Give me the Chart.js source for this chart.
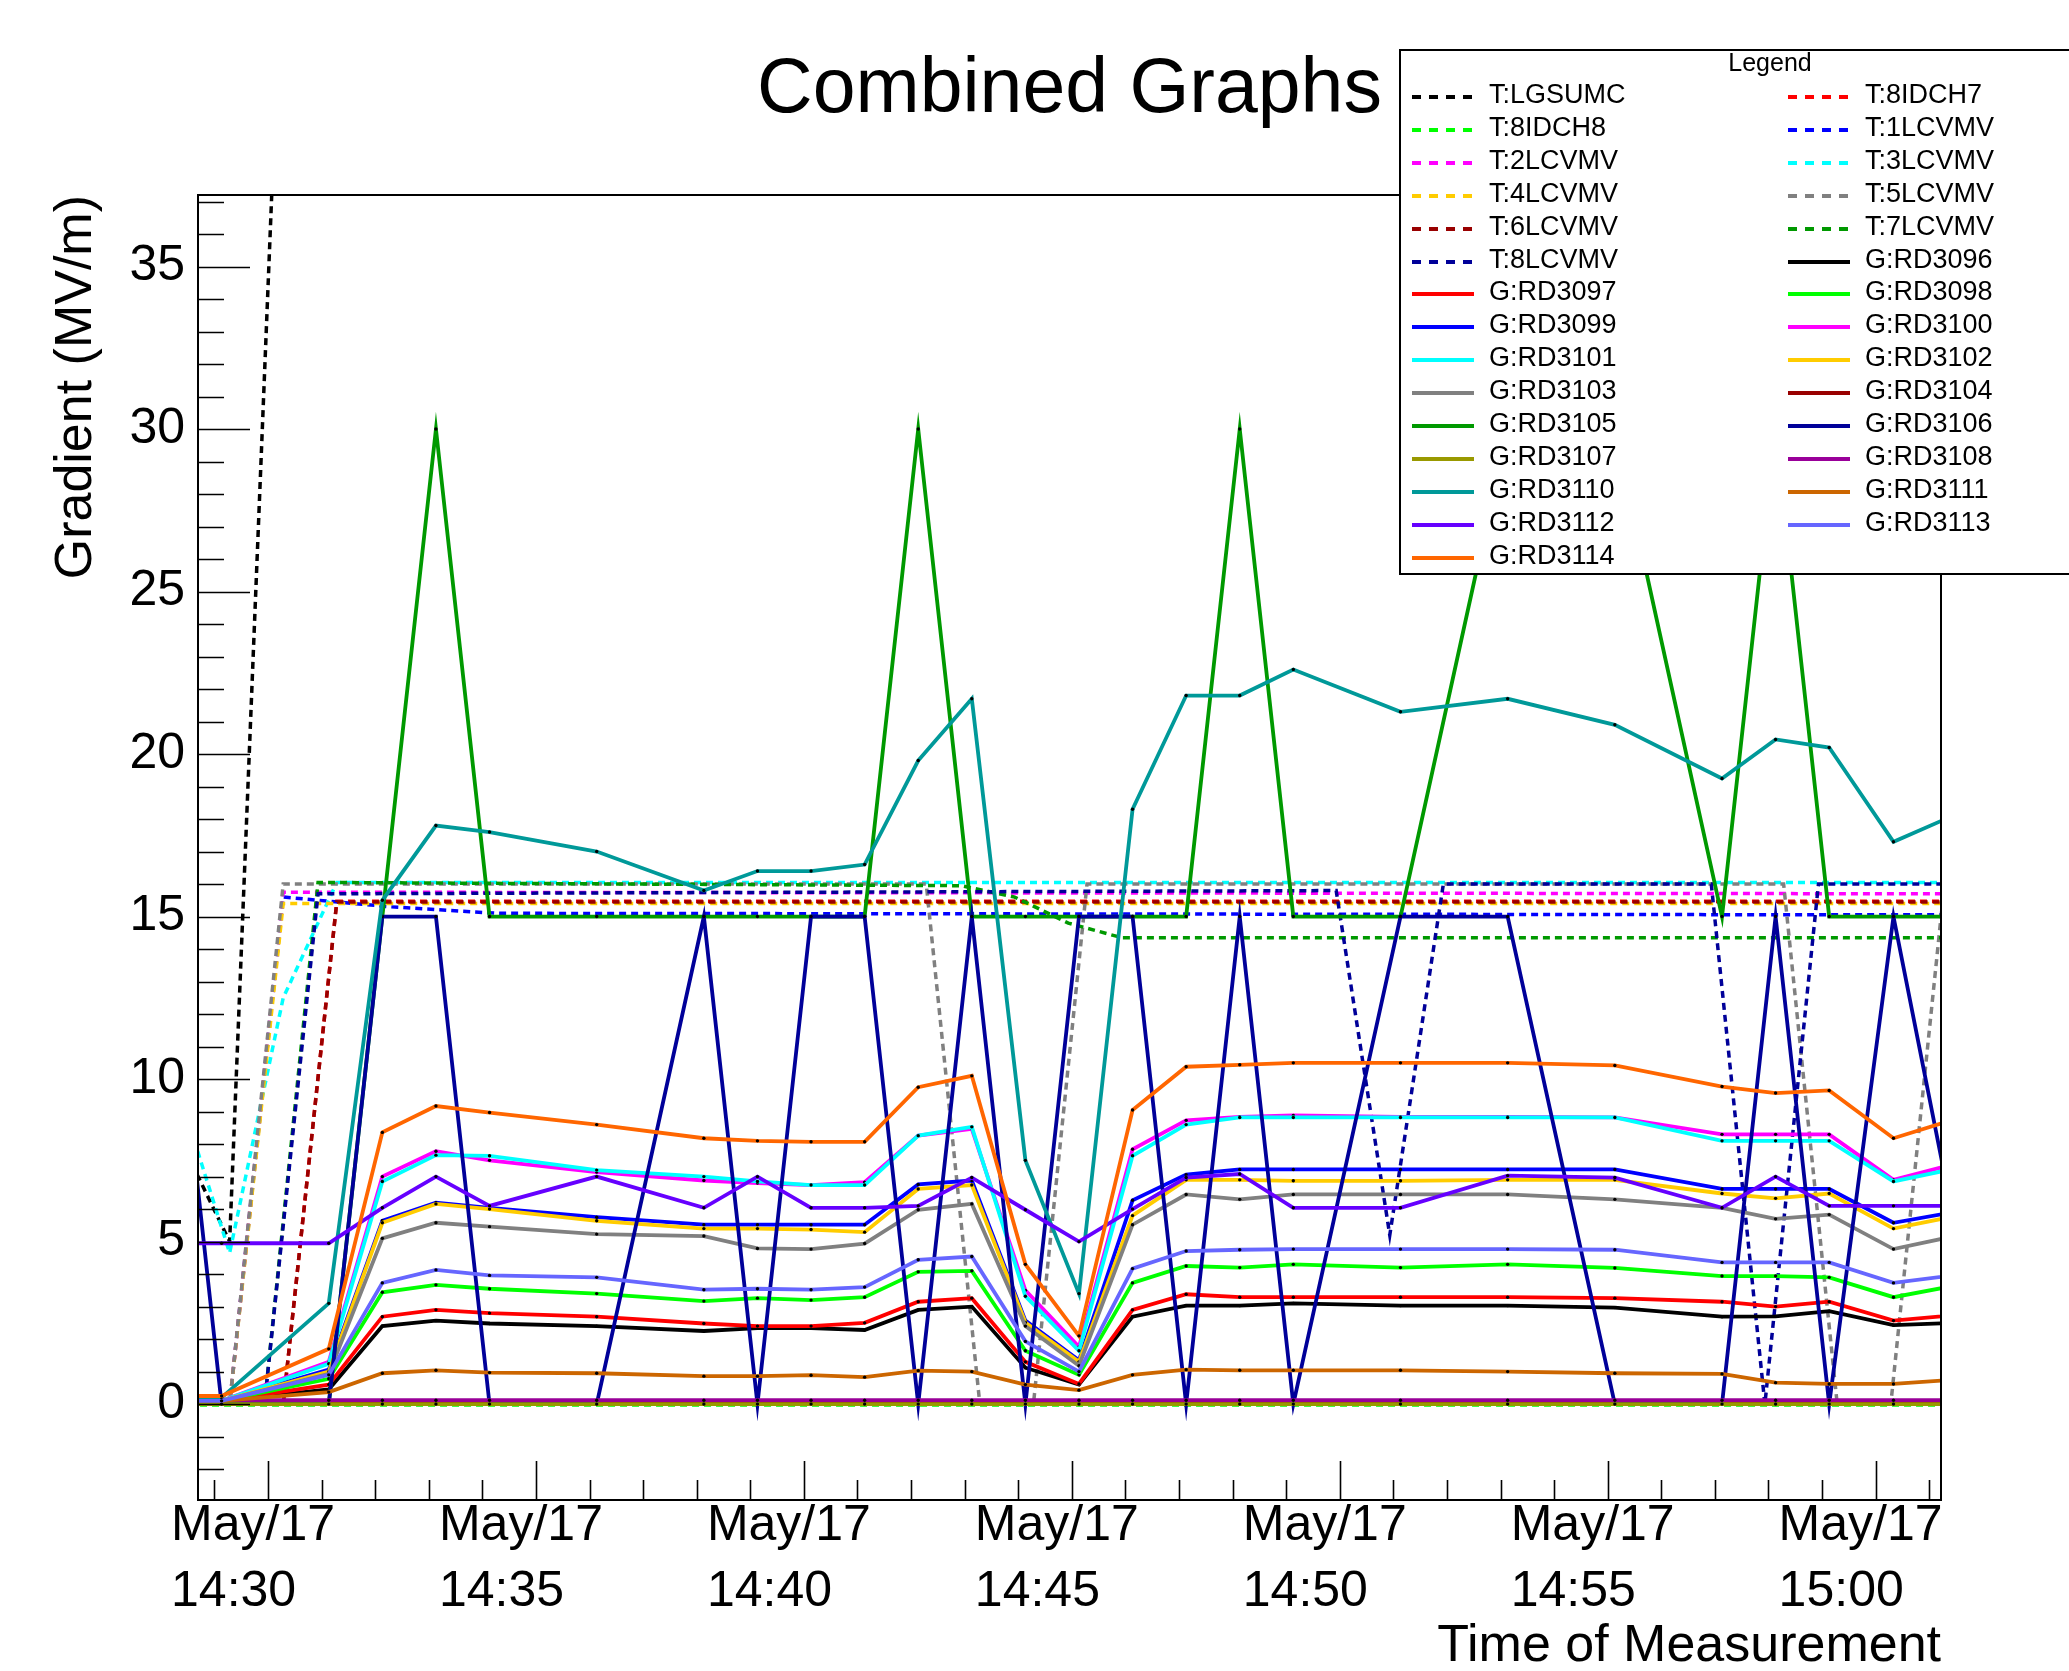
<!DOCTYPE html>
<html>
<head>
<meta charset="utf-8">
<script src="https://cdn.jsdelivr.net/npm/chart.js@4.4.1/dist/chart.umd.min.js"></script>
<style>
body { margin: 0; background: #fff; }
#wrap { position: relative; width: 2069px; height: 1671px; overflow: hidden; font-family: 'Liberation Sans', Arial, sans-serif; }
#legendBox { position: absolute; left: 1399px; top: 49px; width: 742px; height: 526px; box-sizing: border-box; border: 2px solid #000; background: #fff; }
.lg-head { position: absolute; font-size: 25px; line-height: 25px; color: #000; }
.lg-text { position: absolute; font-size: 27px; line-height: 27px; color: #000; white-space: nowrap; }
.lg-line { position: absolute; width: 62px; height: 4px; }
</style>
</head>
<body>
<div id="wrap">
	<canvas id="chart" width="2069" height="1671"></canvas>
	<div id="legendBox"></div>
</div>
<script>
// ---- data ----
// G: samples (clock time), same times for every G:RD series
const gTimes = ['14:28:08', '14:29:08', '14:31:08', '14:32:08', '14:33:08', '14:34:08', '14:36:08',
	'14:38:08', '14:39:08', '14:40:08', '14:41:08', '14:42:08', '14:43:08', '14:44:08', '14:45:08',
	'14:46:08', '14:47:08', '14:48:08', '14:49:08', '14:51:08', '14:53:08', '14:55:08', '14:57:08',
	'14:58:08', '14:59:08', '15:00:20', '15:02:08']

const rd3096 = [0.1, 0.1, 0.45, 2.4, 2.57, 2.48, 2.4, 2.25, 2.34, 2.34, 2.28, 2.9, 3.0, 1.12, 0.6, 2.69, 3.03, 3.03, 3.1, 3.03, 3.03, 2.97, 2.69, 2.7, 2.86, 2.43, 2.54]
const rd3097 = [0.1, 0.1, 0.6, 2.69, 2.9, 2.8, 2.69, 2.48, 2.4, 2.4, 2.5, 3.15, 3.26, 1.3, 0.62, 2.9, 3.38, 3.29, 3.29, 3.29, 3.29, 3.26, 3.15, 3.0, 3.15, 2.57, 2.83]
const rd3098 = [0.1, 0.1, 0.78, 3.44, 3.67, 3.55, 3.4, 3.17, 3.26, 3.2, 3.29, 4.07, 4.1, 1.64, 0.9, 3.73, 4.25, 4.2, 4.3, 4.2, 4.3, 4.19, 3.94, 3.94, 3.9, 3.29, 3.85]
const rd3099 = [0.1, 0.1, 1.06, 5.64, 6.2, 6.04, 5.75, 5.52, 5.52, 5.52, 5.52, 6.76, 6.88, 2.57, 1.35, 6.27, 7.06, 7.22, 7.22, 7.22, 7.22, 7.22, 6.62, 6.62, 6.62, 5.58, 6.1]
const rd3100 = [0.1, 0.1, 1.3, 7.0, 7.78, 7.5, 7.14, 6.88, 6.8, 6.74, 6.83, 8.26, 8.47, 3.5, 1.76, 7.84, 8.73, 8.84, 8.88, 8.84, 8.84, 8.82, 8.3, 8.3, 8.3, 6.9, 7.67]
const rd3101 = [0.1, 0.1, 1.24, 6.85, 7.66, 7.64, 7.2, 7.0, 6.85, 6.74, 6.74, 8.26, 8.53, 3.32, 1.64, 7.64, 8.6, 8.82, 8.82, 8.82, 8.82, 8.82, 8.1, 8.1, 8.1, 6.85, 7.47]
const rd3102 = [0.1, 0.1, 1.0, 5.58, 6.16, 6.0, 5.64, 5.4, 5.4, 5.37, 5.29, 6.62, 6.74, 2.51, 1.3, 5.8, 6.9, 6.9, 6.87, 6.87, 6.9, 6.9, 6.48, 6.33, 6.48, 5.4, 6.0]
const rd3103 = [0.1, 0.1, 0.93, 5.1, 5.58, 5.46, 5.23, 5.17, 4.79, 4.77, 4.94, 5.98, 6.16, 2.4, 1.18, 5.52, 6.45, 6.3, 6.45, 6.45, 6.45, 6.3, 6.04, 5.7, 5.83, 4.77, 5.4]
const rd3104 = [0.03, 0.03, 0.03, 0.03, 0.03, 0.03, 0.03, 0.03, 0.03, 0.03, 0.03, 0.03, 0.03, 0.03, 0.03, 0.03, 0.03, 0.03, 0.03, 0.03, 0.03, 0.03, 0.03, 0.03, 0.03, 0.03, 0.03]
const rd3105 = [0, 0, 0, 15, 30, 15, 15, 15, 15, 15, 15, 30, 15, 15, 15, 15, 15, 30, 15, 15, 30, 30, 15, 30, 15, 15, 15]
const rd3106 = [15, 0, 0, 15, 15, 0, 0, 15, 0, 15, 15, 0, 15, 0, 15, 15, 0, 15, 0, 15, 15, 0, 0, 15, 0, 15, 0]
const rd3107 = [0, 0, 0, 0, 0, 0, 0, 0, 0, 0, 0, 0, 0, 0, 0, 0, 0, 0, 0, 0, 0, 0, 0, 0, 0, 0, 0]
const rd3108 = [0.12, 0.12, 0.12, 0.12, 0.12, 0.12, 0.12, 0.12, 0.12, 0.12, 0.12, 0.12, 0.12, 0.12, 0.12, 0.12, 0.12, 0.12, 0.12, 0.12, 0.12, 0.12, 0.12, 0.12, 0.12, 0.12, 0.12]
const rd3110 = [0.2, 0.2, 3.1, 15.5, 17.8, 17.6, 17.0, 15.8, 16.4, 16.4, 16.6, 19.8, 21.7, 7.5, 3.4, 18.3, 21.8, 21.8, 22.6, 21.3, 21.7, 20.9, 19.25, 20.45, 20.2, 17.3, 18.6]
const rd3111 = [0.1, 0.1, 0.37, 0.95, 1.04, 0.97, 0.95, 0.86, 0.86, 0.89, 0.83, 1.03, 1.0, 0.6, 0.43, 0.9, 1.06, 1.04, 1.04, 1.04, 1.0, 0.95, 0.93, 0.66, 0.62, 0.62, 0.83]
const rd3112 = [4.95, 4.95, 4.95, 6.04, 7.0, 6.1, 7.0, 6.04, 7.0, 6.04, 6.04, 6.1, 6.97, 5.98, 5.0, 6.0, 6.97, 7.08, 6.04, 6.04, 7.03, 6.97, 6.04, 7.0, 6.1, 6.1, 6.1]
const rd3113 = [0.1, 0.1, 0.9, 3.73, 4.13, 3.96, 3.9, 3.52, 3.55, 3.52, 3.6, 4.44, 4.54, 1.93, 1.0, 4.17, 4.71, 4.75, 4.77, 4.77, 4.77, 4.75, 4.36, 4.36, 4.36, 3.73, 4.1]
const rd3114 = [0.25, 0.25, 1.7, 8.36, 9.17, 8.97, 8.6, 8.18, 8.1, 8.07, 8.07, 9.75, 10.1, 4.3, 2.1, 9.05, 10.38, 10.44, 10.5, 10.5, 10.5, 10.42, 9.77, 9.57, 9.65, 8.18, 9.1]

// T: series, each logged at its own times (only the samples where it changes)
const lgsumcTimes = ['14:28:17', '14:29:17', '14:30:17', '15:02:17']
const lgsumc = [8.4, 5.0, 46, 46]
const idch7Times = ['14:28:17', '14:30:17', '14:31:17', '15:02:17']
const idch7 = [0, 0, 15.47, 15.47]
const idch8Times = ['14:28:17', '15:02:17']
const idch8 = [-0.03, -0.03]
const lcvmv1Times = ['14:28:17', '14:29:17', '14:30:17', '14:32:17', '14:34:17', '15:02:17']
const lcvmv1 = [0, 0, 15.6, 15.3, 15.1, 15.05]
const lcvmv2Times = ['14:28:17', '14:29:17', '14:30:17', '15:02:17']
const lcvmv2 = [0, 0, 15.75, 15.7]
const lcvmv3Times = ['14:28:17', '14:29:17', '14:30:17', '14:31:17', '15:02:17']
const lcvmv3 = [9.9, 4.65, 12.5, 16.05, 16.05]
const lcvmv4Times = ['14:28:17', '14:29:17', '14:30:17', '15:02:17']
const lcvmv4 = [0, 0, 15.4, 15.4]
const lcvmv5Times = ['14:28:17', '14:29:17', '14:30:17', '14:42:17', '14:43:17', '14:44:17', '14:45:17',
	'14:58:17', '14:59:17', '15:00:17', '15:01:17', '15:02:17']
const lcvmv5 = [0, 0, 16, 16, 0, 0, 16, 16, 0, 0, 16, 16]
const lcvmv6Times = ['14:28:17', '14:30:17', '14:31:17', '15:02:17']
const lcvmv6 = [0, 0, 15.45, 15.45]
const lcvmv7Times = ['14:28:56', '14:29:56', '14:30:56', '14:42:56', '14:43:56', '14:44:56', '14:45:56', '15:02:56']
const lcvmv7 = [0, 0, 16.05, 15.95, 15.6, 14.8, 14.35, 14.35]
const lcvmv8Times = ['14:28:56', '14:29:56', '14:30:56', '14:49:56', '14:50:56', '14:51:56', '14:56:56',
	'14:57:56', '14:58:56', '15:02:56']
const lcvmv8 = [0, 0, 15.7, 15.8, 5.2, 16.0, 16.0, 0, 16.0, 16.0]

// axes
const xTickMinutes = [0, 5, 10, 15, 20, 25, 30]
const xTickLabels = ['14:30', '14:35', '14:40', '14:45', '14:50', '14:55', '15:00']
const yTickValues = [0, 5, 10, 15, 20, 25, 30, 35]

// ---- helpers ----
const FONT = "'Liberation Sans', Arial, Helvetica, sans-serif"

// minutes after 14:30
function toMin(t) {
	const p = t.split(':').map(Number)
	return (p[0] - 14) * 60 + p[1] - 30 + p[2] / 60
}

function series(label, color, times, values, dotted) {
	return {
		label: label,
		borderColor: color,
		backgroundColor: color,
		data: times.map((t, i) => ({ x: toMin(t), y: values[i] })),
		borderWidth: dotted ? 3.5 : 3.8,
		borderDash: dotted ? [7, 5] : [],
		pointRadius: dotted ? 0 : 1.7,
		pointBackgroundColor: '#000',
		pointBorderWidth: 0,
		pointHoverRadius: 0,
		fill: false,
		dotted: dotted,
	}
}

const datasets = [
	series('T:LGSUMC', '#000000', lgsumcTimes, lgsumc, true),
	series('T:8IDCH7', '#ff0000', idch7Times, idch7, true),
	series('T:8IDCH8', '#00ff00', idch8Times, idch8, true),
	series('T:1LCVMV', '#0000ff', lcvmv1Times, lcvmv1, true),
	series('T:2LCVMV', '#ff00ff', lcvmv2Times, lcvmv2, true),
	series('T:3LCVMV', '#00ffff', lcvmv3Times, lcvmv3, true),
	series('T:4LCVMV', '#ffcc00', lcvmv4Times, lcvmv4, true),
	series('T:5LCVMV', '#808080', lcvmv5Times, lcvmv5, true),
	series('T:6LCVMV', '#990000', lcvmv6Times, lcvmv6, true),
	series('T:7LCVMV', '#009900', lcvmv7Times, lcvmv7, true),
	series('T:8LCVMV', '#000099', lcvmv8Times, lcvmv8, true),
	series('G:RD3096', '#000000', gTimes, rd3096, false),
	series('G:RD3097', '#ff0000', gTimes, rd3097, false),
	series('G:RD3098', '#00ff00', gTimes, rd3098, false),
	series('G:RD3099', '#0000ff', gTimes, rd3099, false),
	series('G:RD3100', '#ff00ff', gTimes, rd3100, false),
	series('G:RD3101', '#00ffff', gTimes, rd3101, false),
	series('G:RD3102', '#ffcc00', gTimes, rd3102, false),
	series('G:RD3103', '#808080', gTimes, rd3103, false),
	series('G:RD3104', '#990000', gTimes, rd3104, false),
	series('G:RD3105', '#009900', gTimes, rd3105, false),
	series('G:RD3106', '#000099', gTimes, rd3106, false),
	series('G:RD3107', '#999900', gTimes, rd3107, false),
	series('G:RD3108', '#990099', gTimes, rd3108, false),
	series('G:RD3110', '#009999', gTimes, rd3110, false),
	series('G:RD3111', '#cc6600', gTimes, rd3111, false),
	series('G:RD3112', '#6600ff', gTimes, rd3112, false),
	series('G:RD3113', '#6666ff', gTimes, rd3113, false),
	series('G:RD3114', '#ff6600', gTimes, rd3114, false),
]
// later graphs are painted on top, as in ROOT
datasets.forEach((d, i) => { d.order = -i })

// frame box and inward ticks, ROOT style
const rootFrame = {
	id: 'rootFrame',
	afterDatasetsDraw(chart) {
		const ctx = chart.ctx
		const a = chart.chartArea
		const x = chart.scales.x
		const y = chart.scales.y
		ctx.save()
		ctx.strokeStyle = '#000'
		ctx.lineWidth = 2
		ctx.strokeRect(a.left, a.top, a.right - a.left, a.bottom - a.top)
		ctx.lineWidth = 1.6
		ctx.beginPath()
		for (let v = -2; v <= 37; v++) {
			const py = Math.round(y.getPixelForValue(v)) + 0.5
			const len = v % 5 === 0 ? 52 : 26
			ctx.moveTo(a.left, py)
			ctx.lineTo(a.left + len, py)
		}
		for (let m = -1; m <= 31; m++) {
			const px = Math.round(x.getPixelForValue(m)) + 0.5
			const len = m % 5 === 0 ? 39 : 20
			ctx.moveTo(px, a.bottom)
			ctx.lineTo(px, a.bottom - len)
		}
		ctx.stroke()
		ctx.restore()
	},
}

new Chart(document.getElementById('chart'), {
	type: 'line',
	data: { datasets: datasets },
	options: {
		responsive: false,
		animation: false,
		events: [],
		layout: { padding: { left: 0, right: 128, top: 0, bottom: 0 } },
		scales: {
			x: {
				type: 'linear',
				min: -1.307,
				max: 31.22,
				afterBuildTicks: s => { s.ticks = xTickMinutes.map(v => ({ value: v })) },
				afterFit: s => {
					s.height = 171
					s.paddingLeft = 0
					s.paddingRight = 0
				},
				grid: { display: false, drawTicks: false },
				border: { display: false },
				ticks: {
					autoSkip: false,
					maxRotation: 0,
					minRotation: 0,
					align: 'start',
					labelOffset: -97,
					padding: -7,
					color: '#000',
					font: { family: FONT, size: 50, lineHeight: 1.32 },
					callback: (v, i) => ['May/17', xTickLabels[i]],
				},
				title: {
					display: true,
					text: 'Time of Measurement',
					align: 'end',
					color: '#000',
					font: { family: FONT, size: 52, lineHeight: 1.2 },
					padding: { top: 0, bottom: -7 },
				},
			},
			y: {
				min: -2.95,
				max: 37.2,
				afterBuildTicks: s => { s.ticks = yTickValues.map(v => ({ value: v })) },
				afterFit: s => {
					s.width = 198
					s.paddingTop = 0
					s.paddingBottom = 0
				},
				grid: { display: false, drawTicks: false },
				border: { display: false },
				ticks: {
					padding: 13,
					color: '#000',
					font: { family: FONT, size: 50 },
				},
				title: {
					display: true,
					text: 'Gradient (MV/m)',
					align: 'end',
					color: '#000',
					font: { family: FONT, size: 52, lineHeight: 1.2 },
					padding: { top: 45, bottom: 0 },
				},
			},
		},
		plugins: {
			legend: { display: false },
			tooltip: { enabled: false },
			title: {
				display: true,
				text: 'Combined Graphs',
				fullSize: false,
				color: '#000',
				font: { family: FONT, size: 77, weight: 'normal', lineHeight: 1.2 },
				padding: { top: 45, bottom: 57.6 },
			},
		},
	},
	plugins: [rootFrame],
})

// ---- legend box (two columns, row by row) ----
const wrap = document.getElementById('wrap')
const head = document.createElement('div')
head.className = 'lg-head'
head.textContent = 'Legend'
head.style.top = '50px'
head.style.left = '1770px'
head.style.transform = 'translateX(-50%)'
wrap.appendChild(head)

datasets.forEach((d, i) => {
	const col = i % 2
	const row = Math.floor(i / 2)
	const yMid = 97 + row * 32.9
	const line = document.createElement('div')
	line.className = 'lg-line'
	line.style.left = (col ? 1788 : 1412) + 'px'
	line.style.top = (yMid - 2) + 'px'
	line.style.background = d.dotted
		? 'repeating-linear-gradient(to right, ' + d.borderColor + ' 0 9px, transparent 9px 17px)'
		: d.borderColor
	wrap.appendChild(line)
	const txt = document.createElement('div')
	txt.className = 'lg-text'
	txt.textContent = d.label
	txt.style.left = (col ? 1865 : 1489) + 'px'
	txt.style.top = (yMid - 16) + 'px'
	wrap.appendChild(txt)
})
</script>
</body>
</html>
